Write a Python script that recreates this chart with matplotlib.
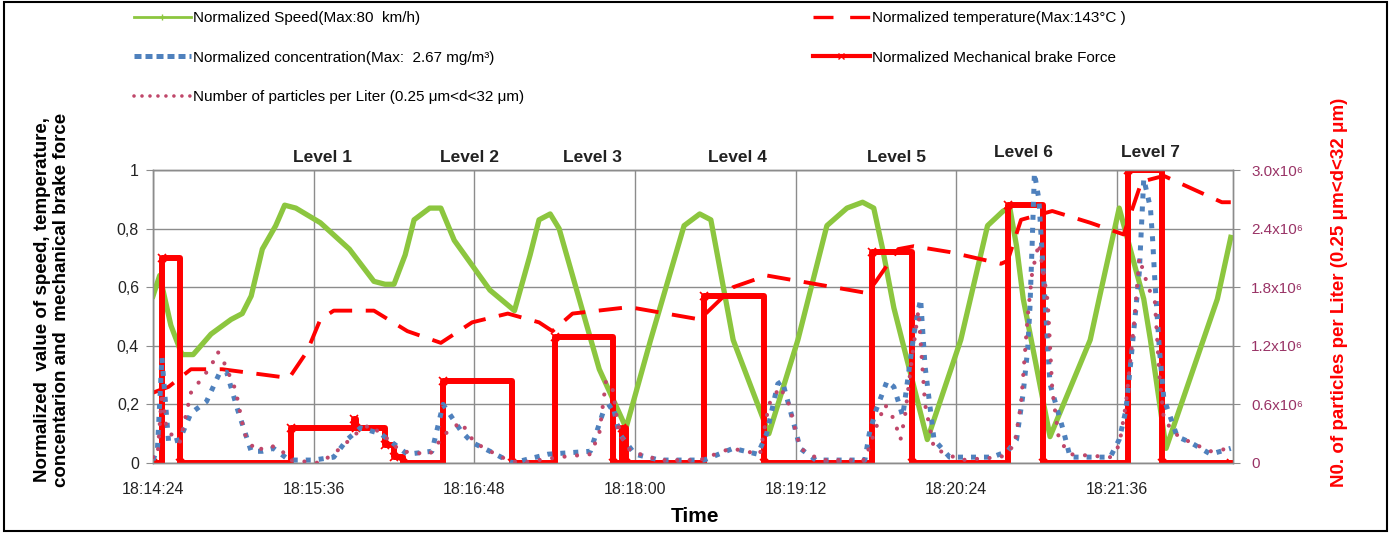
import matplotlib.pyplot as plt
from matplotlib.lines import Line2D
from matplotlib.patches import Rectangle

plt.rcParams['font.family'] = ['Liberation Sans', 'DejaVu Sans']

# time axis: seconds after 18:14:24
tick_t = [0, 72, 144, 216, 288, 360, 432]
tick_labels = ['18:14:24', '18:15:36', '18:16:48', '18:18:00', '18:19:12', '18:20:24', '18:21:36']

speed_t = [0, 3, 8, 13, 18, 26, 35, 40, 44, 49, 55, 59, 64, 75, 88, 99, 104, 108, 113, 117,
           124, 129, 135, 151, 162, 169, 173, 178, 182, 191, 200, 212, 223, 238, 245, 250,
           260, 276, 289, 302, 311, 318, 323, 327, 332, 347, 362, 374, 381, 384, 387, 390,
           402, 420, 424, 433, 444, 447, 454, 477, 483]
speed_v = [0.57, 0.64, 0.47, 0.37, 0.37, 0.44, 0.49, 0.51, 0.57, 0.73, 0.81, 0.88, 0.87, 0.82,
           0.73, 0.62, 0.61, 0.61, 0.71, 0.83, 0.87, 0.87, 0.76, 0.59, 0.52, 0.71, 0.83, 0.85,
           0.80, 0.56, 0.32, 0.12, 0.42, 0.81, 0.85, 0.83, 0.42, 0.10, 0.42, 0.81, 0.87, 0.89,
           0.87, 0.73, 0.53, 0.08, 0.42, 0.81, 0.86, 0.87, 0.74, 0.56, 0.09, 0.42, 0.56, 0.87,
           0.56, 0.42, 0.05, 0.56, 0.77]

temp_t = [0, 7, 17, 31, 51, 61, 69, 75, 81, 99, 114, 129, 143, 159, 173, 179, 188, 211, 215,
          245, 260, 275, 290, 320, 324, 334, 341, 357, 380, 383, 389, 403, 420, 435, 443, 453,
          479, 483]
temp_v = [0.24, 0.26, 0.32, 0.32, 0.30, 0.29, 0.38, 0.49, 0.52, 0.52, 0.45, 0.41, 0.48, 0.51,
          0.48, 0.45, 0.51, 0.53, 0.53, 0.49, 0.60, 0.64, 0.62, 0.58, 0.62, 0.73, 0.74, 0.72,
          0.68, 0.69, 0.83, 0.86, 0.82, 0.78, 0.96, 0.98, 0.89, 0.89]

brake_t = [0, 4, 12, 62, 90, 91, 104, 108, 112, 130, 161, 180, 206, 210, 212, 247, 274, 322,
           340, 383, 399, 437, 452, 483]
brake_v = [0, 0.70, 0, 0.12, 0.15, 0.12, 0.06, 0.02, 0, 0.28, 0, 0.43, 0, 0.12, 0, 0.57, 0,
           0.72, 0, 0.88, 0, 1.0, 0, 0]

conc_t = [0, 2, 4, 7, 12, 17, 24, 30, 33, 38, 44, 49, 54, 61, 72, 81, 87, 93, 102, 114, 125,
          130, 138, 143, 151, 161, 177, 196, 202, 206, 209, 216, 227, 247, 260, 271, 275, 280,
          282, 287, 290, 297, 319, 321, 324, 329, 332, 336, 341, 344, 346, 350, 357, 376, 383,
          387, 390, 392, 393, 394, 395, 397, 402, 405, 408, 411, 429, 433, 436, 438, 442, 444,
          447, 448, 449, 451, 453, 459, 465, 474, 483]
conc_v = [0.01, 0.05, 0.36, 0.07, 0.08, 0.17, 0.21, 0.31, 0.31, 0.18, 0.04, 0.04, 0.05, 0.01,
          0.01, 0.02, 0.08, 0.12, 0.10, 0.03, 0.04, 0.20, 0.11, 0.07, 0.04, 0.00, 0.03, 0.04,
          0.18, 0.20, 0.10, 0.03, 0.01, 0.01, 0.05, 0.03, 0.10, 0.27, 0.28, 0.14, 0.05, 0.01,
          0.01, 0.10, 0.18, 0.28, 0.26, 0.16, 0.44, 0.56, 0.33, 0.08, 0.02, 0.02, 0.04, 0.08,
          0.24, 0.39, 0.53, 0.75, 0.99, 0.90, 0.27, 0.19, 0.11, 0.02, 0.02, 0.08, 0.18, 0.33,
          0.65, 0.97, 0.87, 0.76, 0.62, 0.39, 0.22, 0.09, 0.07, 0.03, 0.05]

# particles per liter, in units of 10^6
part_t = [0, 2, 4, 6, 9, 12, 17, 21, 26, 29, 32, 37, 41, 46, 52, 57, 61, 75, 84, 91, 97, 104,
          111, 124, 131, 138, 144, 156, 164, 182, 196, 200, 203, 206, 209, 214, 227, 245, 259,
          272, 276, 281, 285, 290, 299, 319, 324, 328, 332, 335, 337, 340, 343, 346, 350, 362,
          380, 386, 389, 392, 394, 397, 401, 403, 406, 411, 429, 433, 436, 440, 442, 446, 449,
          451, 453, 458, 465, 474, 483]
part_v = [0.06, 0.06, 0.72, 0.36, 0.27, 0.21, 0.72, 0.84, 0.99, 1.14, 1.02, 0.75, 0.30, 0.12,
          0.18, 0.15, 0.03, 0.0, 0.15, 0.30, 0.39, 0.27, 0.12, 0.09, 0.30, 0.42, 0.21, 0.06,
          0.0, 0.06, 0.09, 0.30, 0.84, 0.75, 0.30, 0.12, 0.03, 0.03, 0.15, 0.09, 0.60, 0.78,
          0.60, 0.15, 0.03, 0.03, 0.36, 0.60, 0.45, 0.24, 0.48, 1.05, 1.56, 0.60, 0.15, 0.03,
          0.06, 0.18, 0.60, 1.50, 1.95, 2.25, 1.65, 0.75, 0.24, 0.09, 0.06, 0.18, 0.60, 1.50,
          2.10, 1.80, 1.65, 0.90, 0.45, 0.30, 0.21, 0.12, 0.15]

level_names = ['Level 1', 'Level 2', 'Level 3', 'Level 4', 'Level 5', 'Level 6', 'Level 7']
level_t = [76, 142, 197, 262, 333, 390, 447]

left_ticks = [0, 0.2, 0.4, 0.6, 0.8, 1]
left_labels = ['0', '0,2', '0,4', '0,6', '0,8', '1']
right_ticks = [0, 0.6, 1.2, 1.8, 2.4, 3.0]
right_labels = ['0', '0.6x10⁶', '1.2x10⁶', '1.8x10⁶', '2.4x10⁶', '3.0x10⁶']

GREEN = '#8CC63F'
BLUE = '#4F81BD'
PINK = '#C0476A'
RED = '#FF0000'
GRID = '#8C8C8C'

fig = plt.figure(figsize=(13.92, 5.33), dpi=100)
ax = fig.add_axes([153 / 1392, 70 / 533, 1080 / 1392, 293 / 533])
ax2 = ax.twinx()

ax.plot(speed_t, speed_v, color=GREEN, lw=3.8, solid_joinstyle='round', zorder=3)
ax.plot(temp_t, temp_v, color=RED, lw=2.8, linestyle=(0, (6, 3.5)), zorder=4)
ax.plot(brake_t, brake_v, color=RED, lw=4.3, drawstyle='steps-post',
        marker='x', ms=6, mew=1.2, zorder=5)
ax.plot(conc_t, conc_v, color=BLUE, lw=3.6, linestyle=(0, (1, 1.6)), zorder=6)
ax2.plot(part_t, part_v, color=PINK, lw=3, linestyle=(0, (0.01, 3)),
         dash_capstyle='round', zorder=7)

ax.set_xlim(0, 484)
ax.set_ylim(0, 1)
ax2.set_ylim(0, 3.0)

ax.set_xticks(tick_t)
ax.set_xticklabels(tick_labels)
ax.set_yticks(left_ticks)
ax.set_yticklabels(left_labels)
ax2.set_yticks(right_ticks)
ax2.set_yticklabels(right_labels)

ax.grid(True, color=GRID, lw=1)
for a in (ax, ax2):
    for s in a.spines.values():
        s.set_color(GRID)
        s.set_linewidth(1)
ax.tick_params(axis='y', length=5, color=GRID, pad=5, labelsize=11.5, labelcolor='#222222')
ax.tick_params(axis='x', length=0, pad=14, labelsize=11.5, labelcolor='#222222')
ax2.tick_params(axis='y', length=5, color=GRID, pad=8, labelsize=11, labelcolor='#993366')

for name, t in zip(level_names, level_t):
    y = 1.044 if name not in ('Level 6', 'Level 7') else 1.06
    ax.text(t, y, name, transform=ax.get_xaxis_transform(), ha='center', va='center',
            fontsize=12.5, weight='bold', color='#222222')

# legend
h_speed = Line2D([], [], color=GREEN, lw=2, marker='+', ms=4)
h_conc = Line2D([], [], color=BLUE, lw=3.6, linestyle=(0, (1.4, 0.8)))
h_part = Line2D([], [], color=PINK, lw=2.6, linestyle=(0, (0.01, 2.2)), dash_capstyle='round')
h_temp = Line2D([], [], color=RED, lw=2.4, linestyle=(0, (6, 5)))
h_brake = Line2D([], [], color=RED, lw=3, marker='x', ms=4)

common = dict(frameon=False, fontsize=11, handlelength=3.7, handletextpad=0.15,
              labelspacing=1.67, borderpad=0, borderaxespad=0, loc='upper left')
fig.legend([h_speed, h_conc, h_part],
           ['Normalized Speed(Max:80  km/h)',
            'Normalized concentration(Max:  2.67 mg/m³)',
            'Number of particles per Liter (0.25 μm<d<32 μm)'],
           bbox_to_anchor=(134 / 1392, 1 - 11 / 533), **common)
fig.legend([h_temp, h_brake],
           ['Normalized temperature(Max:143°C )',
            'Normalized Mechanical brake Force'],
           bbox_to_anchor=(813 / 1392, 1 - 11 / 533), **common)

fig.text(52 / 1392, 1 - 300 / 533,
         'Normalized  value of speed, temperature,\nconcentarion and  mechanical brake force',
         rotation=90, ha='center', va='center', fontsize=13.5, weight='bold',
         linespacing=1.2, multialignment='center')
fig.text(1340 / 1392, 1 - 292 / 533, 'N0. of particles per Liter (0.25 μm<d<32 μm)',
         rotation=90, ha='center', va='center', fontsize=13.5, weight='bold', color=RED)
fig.text(695 / 1392, 1 - 517 / 533, 'Time', ha='center', va='center',
         fontsize=15, weight='bold')

fig.patches.append(Rectangle((4 / 1392, 2 / 533), 1383 / 1392, 529 / 533,
                             transform=fig.transFigure, fill=False, lw=1.5,
                             edgecolor='black'))

fig.savefig('out.png', dpi=100, facecolor='white')
